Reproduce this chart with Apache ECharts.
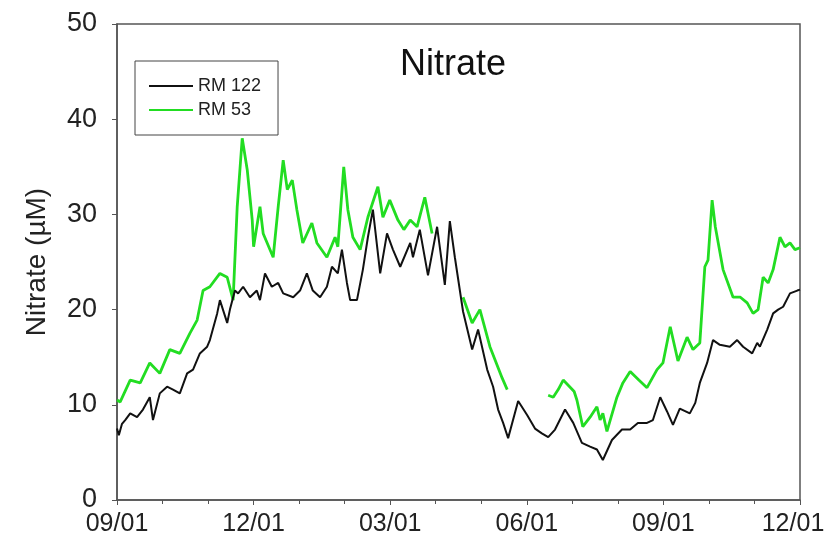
<!DOCTYPE html>
<html>
<head>
<meta charset="utf-8">
<script src="https://cdn.jsdelivr.net/npm/echarts@6/dist/echarts.min.js"></script>
<style>html,body{margin:0;padding:0;background:#fff}#c{width:827px;height:557px}</style>
</head>
<body>
<div id="c"></div>
<script>
// x positions: months since 09/01 (first year)
const tickLabels = ['09/01', '12/01', '03/01', '06/01', '09/01', '12/01'];

const rm122Months = [0.00,0.04,0.11,0.18,0.29,0.44,0.57,0.72,0.79,0.94,1.10,1.23,1.38,1.54,1.67,1.82,1.98,2.04,2.20,2.26,2.42,2.48,2.59,2.66,2.77,2.92,3.07,3.14,3.25,3.40,3.54,3.65,3.87,4.02,4.17,4.30,4.46,4.61,4.72,4.85,4.94,5.05,5.12,5.27,5.40,5.51,5.62,5.78,5.93,6.06,6.22,6.44,6.50,6.65,6.83,7.03,7.20,7.31,7.42,7.60,7.80,7.93,8.13,8.26,8.37,8.48,8.59,8.81,9.01,9.18,9.33,9.47,9.62,9.84,10.02,10.21,10.39,10.54,10.67,10.87,11.09,11.27,11.44,11.64,11.77,11.93,12.08,12.21,12.36,12.58,12.70,12.80,12.96,13.09,13.24,13.46,13.62,13.75,13.95,14.06,14.12,14.28,14.41,14.52,14.63,14.78,14.94,15.00];
const rm122Values = [7.5,6.8,8.0,8.4,9.1,8.7,9.5,10.8,8.4,11.2,11.9,11.6,11.2,13.3,13.7,15.4,16.1,16.8,19.6,21.0,18.6,20.0,22.0,21.7,22.4,21.3,22.0,21.0,23.8,22.4,22.8,21.7,21.3,22.0,23.8,22.0,21.3,22.4,24.5,23.8,26.3,22.8,21.0,21.0,24.2,27.6,30.5,23.8,28.0,26.3,24.5,27.0,25.5,28.4,23.6,28.7,22.6,29.3,25.5,19.8,15.8,17.9,13.7,11.9,9.5,8.1,6.5,10.4,8.9,7.5,7.0,6.6,7.4,9.5,8.1,6.0,5.6,5.3,4.2,6.3,7.4,7.4,8.1,8.1,8.4,10.8,9.3,7.9,9.6,9.1,10.2,12.3,14.4,16.8,16.3,16.1,16.8,16.1,15.4,16.5,16.1,17.9,19.6,20.0,20.3,21.7,22.0,22.1];

const rm53Months = [0.00,0.07,0.29,0.51,0.72,0.94,1.16,1.38,1.60,1.76,1.89,2.04,2.26,2.42,2.55,2.64,2.75,2.86,2.97,3.00,3.14,3.21,3.43,3.54,3.65,3.74,3.85,3.95,4.08,4.28,4.39,4.61,4.79,4.85,4.98,5.07,5.18,5.34,5.51,5.73,5.84,5.99,6.17,6.30,6.44,6.59,6.76,6.92,7.20,7.60,7.80,7.97,8.19,8.46,8.57,9.00,9.47,9.58,9.69,9.80,10.04,10.10,10.23,10.39,10.54,10.61,10.67,10.76,10.98,11.11,11.27,11.46,11.64,11.86,11.99,12.15,12.32,12.52,12.65,12.80,12.91,12.98,13.07,13.14,13.31,13.53,13.69,13.84,13.97,14.08,14.19,14.30,14.41,14.56,14.67,14.78,14.89,15.00];
const rm53Values = [10.5,10.3,12.6,12.3,14.4,13.3,15.8,15.4,17.5,18.9,22.0,22.4,23.8,23.4,21.0,30.8,38.0,34.7,29.4,26.6,30.8,28.0,25.5,30.8,35.7,32.6,33.6,30.5,27.0,29.1,27.0,25.5,27.6,26.6,35.0,30.5,27.6,26.3,29.7,32.9,29.7,31.5,29.4,28.4,29.4,28.7,31.8,28.0,null,21.3,18.6,20.0,16.1,12.8,11.6,null,11.0,10.8,11.6,12.6,11.4,10.5,7.7,8.7,9.8,8.4,9.1,7.2,10.8,12.3,13.5,12.6,11.8,13.7,14.4,18.2,14.6,17.1,15.8,16.5,24.5,25.2,31.5,28.7,24.2,21.3,21.3,20.7,19.6,20.0,23.4,22.8,24.2,27.6,26.6,27.0,26.3,26.5];

const pair = (xs, ys) => xs.map((x, i) => [x, ys[i]]);

const chart = echarts.init(document.getElementById('c'));
const font = 'Liberation Sans, Arial, sans-serif';
chart.setOption({
  animation: false,
  backgroundColor: '#fff',
  title: {
    text: 'Nitrate', left: 395, top: 42,
    textStyle: { fontFamily: font, fontSize: 36, fontWeight: 'normal', color: '#111' }
  },
  legend: {
    left: 135, top: 61, orient: 'vertical',
    padding: [15, 17, 15, 14],
    borderColor: '#444', borderWidth: 1,
    itemWidth: 44, itemHeight: 2, itemGap: 4, icon: 'rect',
    textStyle: { fontFamily: font, fontSize: 18, color: '#222', lineHeight: 20 },
    data: ['RM 122', 'RM 53']
  },
  grid: { left: 117, right: 27, top: 24, bottom: 57, show: true, borderColor: '#555', borderWidth: 1.5,
    backgroundColor: 'transparent', outerBoundsMode: 'none', containLabel: false },
  xAxis: {
    type: 'value', min: 0, max: 15, interval: 3,
    axisLine: { lineStyle: { color: '#555', width: 1.5 } },
    axisTick: { length: 5, lineStyle: { color: '#555' } },
    minorTick: { show: true, splitNumber: 3, length: 4, lineStyle: { color: '#555' } },
    splitLine: { show: false },
    axisLabel: { fontFamily: font, fontSize: 25, color: '#222', margin: 12,
      formatter: v => v >= 15 ? '{last|' + tickLabels[5] + '}' : tickLabels[Math.round(v / 3)],
      rich: { last: { fontFamily: font, fontSize: 25, color: '#222', padding: [0, 14, 0, 0] } } }
  },
  yAxis: {
    type: 'value', min: 0, max: 50, interval: 10,
    name: 'Nitrate (µM)', nameLocation: 'middle', nameGap: 66, nameRotate: 90,
    nameTextStyle: { fontFamily: font, fontSize: 28, color: '#222' },
    axisLine: { show: true, lineStyle: { color: '#555', width: 1.5 } },
    axisTick: { show: true, length: 5, lineStyle: { color: '#555' } },
    splitLine: { show: false },
    axisLabel: { fontFamily: font, fontSize: 27, color: '#222', margin: 20 }
  },
  series: [
    { name: 'RM 122', type: 'line', data: pair(rm122Months, rm122Values), symbol: 'none', z: 3,
      color: '#111', lineStyle: { color: '#111', width: 2 } },
    { name: 'RM 53', type: 'line', data: pair(rm53Months, rm53Values), symbol: 'none', z: 2,
      connectNulls: false, color: '#22dd22', lineStyle: { color: '#22dd22', width: 2.8 } }
  ]
});
</script>
</body>
</html>
